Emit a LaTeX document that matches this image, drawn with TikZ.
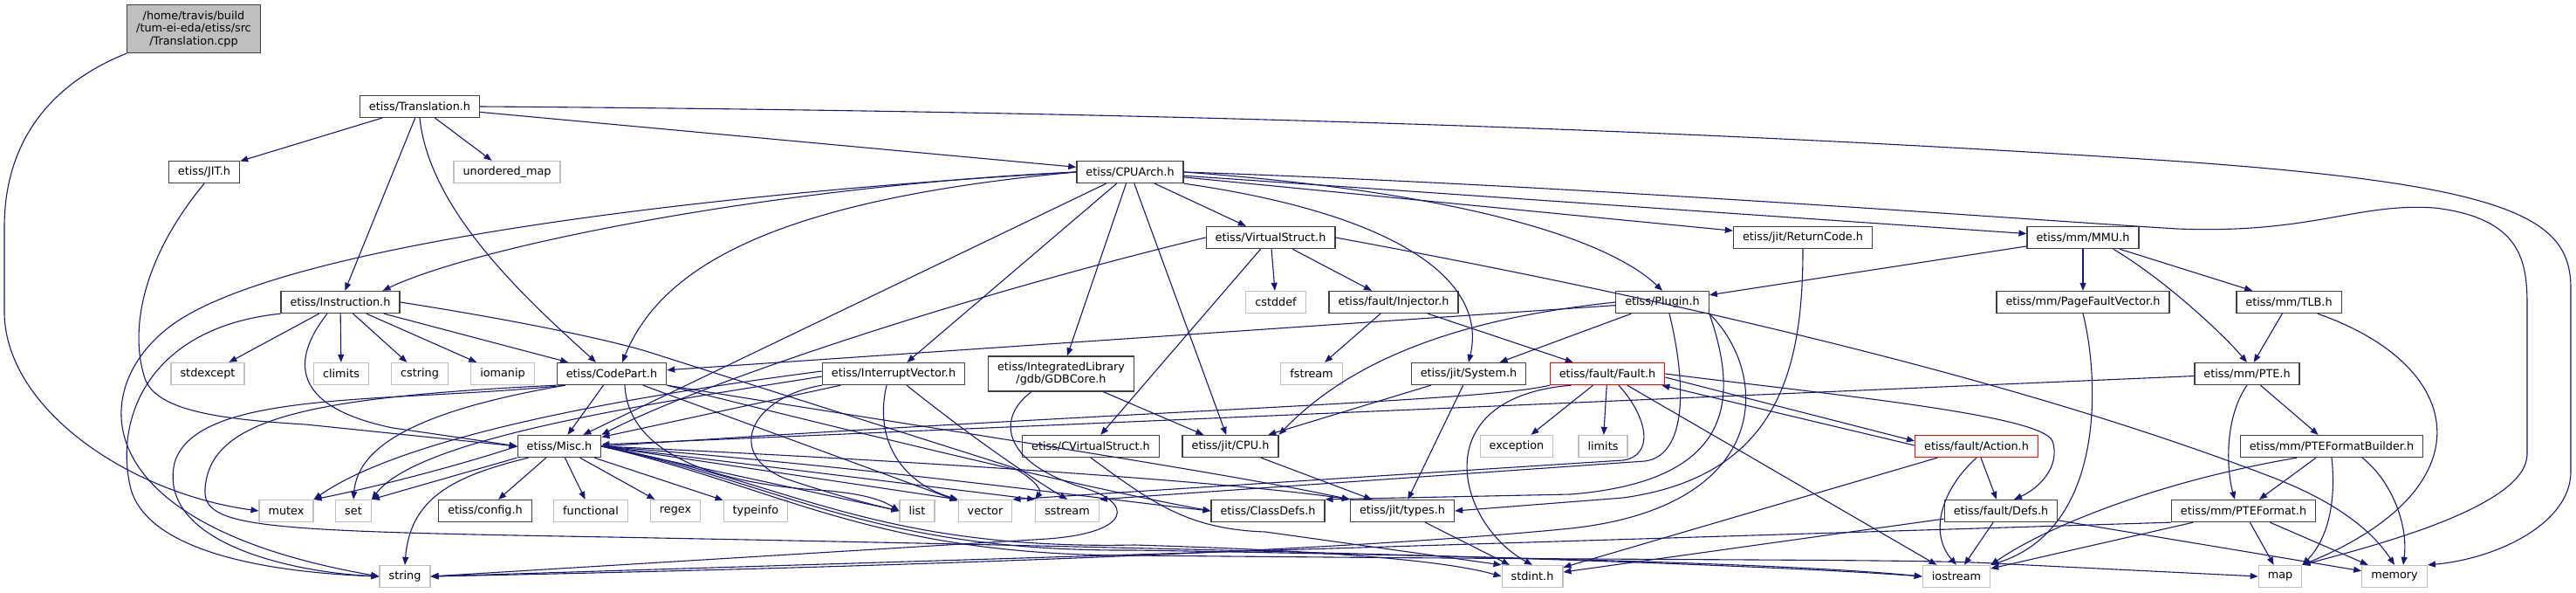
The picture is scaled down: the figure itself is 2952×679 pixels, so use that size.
\documentclass[tikz,border=0pt]{standalone}
\usepackage{fontspec}
\newfontfamily\dvfont{DejaVu Sans}
\usetikzlibrary{arrows.meta}
\definecolor{edgeblue}{HTML}{191970}
\definecolor{boxgray}{HTML}{BFBFBF}
\definecolor{boxdark}{HTML}{404040}
\tikzset{
  >={Triangle[length=9pt,width=7pt]},
  every node/.style={font=\dvfont\fontsize{12.8pt}{14.5pt}\selectfont},
  incl/.style={draw=boxdark, fill=white, text=black, line width=1.3pt,
    inner xsep=10.5pt, inner ysep=0pt, minimum height=25pt},
  sysincl/.style={incl, draw=boxgray},
  cutincl/.style={incl, draw=red},
  rootincl/.style={incl, fill=boxgray, align=center, minimum height=55pt},
  dep/.style={->, draw=edgeblue, line width=1.1pt},
}

\begin{document}
\begin{tikzpicture}[x=1pt,y=-1pt]
  \useasboundingbox (0,0) rectangle (2952,679);

  % files, rank by rank
  \node[rootincl] (cpp) at (222,33) {/home/travis/build\\/tum-ei-eda/etiss/src\\/Translation.cpp};
  \node[incl] (trans) at (481,122) {etiss/Translation.h};
  \node[incl] (jit) at (234,197) {etiss/JIT.h};
  \node[sysincl] (umap) at (581,197) {unordered\_map};
  \node[incl] (cpuarch) at (1295,197) {etiss/CPUArch.h};
  \node[incl] (vstruct) at (1456,272) {etiss/VirtualStruct.h};
  \node[incl] (retcode) at (2066,272) {etiss/jit/ReturnCode.h};
  \node[incl] (mmu) at (2387,272) {etiss/mm/MMU.h};
  \node[incl] (instr) at (390,346) {etiss/Instruction.h};
  \node[sysincl] (cstddef) at (1462,346) {cstddef};
  \node[incl] (injector) at (1597,346) {etiss/fault/Injector.h};
  \node[incl] (plugin) at (1905,346) {etiss/Plugin.h};
  \node[incl] (pfv) at (2387,346) {etiss/mm/PageFaultVector.h};
  \node[incl] (tlb) at (2623,346) {etiss/mm/TLB.h};
  \node[sysincl] (stdexcept) at (238,428) {stdexcept};
  \node[sysincl] (climits) at (391,428) {climits};
  \node[sysincl] (cstring) at (481,428) {cstring};
  \node[sysincl] (iomanip) at (576,428) {iomanip};
  \node[incl] (codepart) at (701,428) {etiss/CodePart.h};
  \node[incl] (intvec) at (1024,428) {etiss/InterruptVector.h};
  \node[incl, align=center, minimum height=40pt] (gdbcore) at (1216,428) {etiss/IntegratedLibrary\\/gdb/GDBCore.h};
  \node[sysincl] (fstream) at (1503,428) {fstream};
  \node[incl] (system) at (1683,428) {etiss/jit/System.h};
  \node[cutincl] (fault) at (1842,428) {etiss/fault/Fault.h};
  \node[incl] (pte) at (2575,428) {etiss/mm/PTE.h};
  \node[incl] (misc) at (641,511) {etiss/Misc.h};
  \node[incl] (cvstruct) at (1250,511) {etiss/CVirtualStruct.h};
  \node[incl] (cpu) at (1410,511) {etiss/jit/CPU.h};
  \node[sysincl] (exception) at (1738,511) {exception};
  \node[sysincl] (limits) at (1837,511) {limits};
  \node[cutincl] (action) at (2265,511) {etiss/fault/Action.h};
  \node[incl] (ptefb) at (2672,511) {etiss/mm/PTEFormatBuilder.h};
  \node[sysincl] (mutex) at (328,585) {mutex};
  \node[sysincl] (set) at (405,585) {set};
  \node[incl] (config) at (556,585) {etiss/config.h};
  \node[sysincl] (functional) at (677,585) {functional};
  \node[sysincl] (regex) at (774,585) {regex};
  \node[sysincl] (typeinfo) at (866,585) {typeinfo};
  \node[sysincl] (list) at (1051,585) {list};
  \node[sysincl] (vector) at (1129,585) {vector};
  \node[sysincl] (sstream) at (1223,585) {sstream};
  \node[incl] (classdefs) at (1453,585) {etiss/ClassDefs.h};
  \node[incl] (types) at (1607,585) {etiss/jit/types.h};
  \node[incl] (defs) at (2293,585) {etiss/fault/Defs.h};
  \node[incl] (ptef) at (2571,585) {etiss/mm/PTEFormat.h};
  \node[sysincl] (string) at (464,660) {string};
  \node[sysincl] (stdint) at (1756,660) {stdint.h};
  \node[sysincl] (iostream) at (2242,660) {iostream};
  \node[sysincl] (map) at (2613,660) {map};
  \node[sysincl] (memory) at (2744,660) {memory};

  % straight includes
  \foreach \a/\b in {trans/jit, trans/umap, trans/instr, trans/cpuarch,
      instr/stdexcept, instr/climits, instr/cstring, instr/iomanip, instr/codepart,
      cpuarch/misc, cpuarch/intvec, cpuarch/gdbcore, cpuarch/cpu, cpuarch/vstruct,
      cpuarch/retcode, cpuarch/mmu,
      vstruct/cvstruct, vstruct/cstddef, vstruct/injector,
      mmu/pfv, mmu/tlb, mmu/plugin, injector/fstream, injector/fault,
      plugin/codepart, plugin/system, tlb/pte,
      codepart/misc, codepart/vector, intvec/misc, gdbcore/cpu,
      system/cpu, system/types, fault/exception, fault/limits, fault/iostream,
      pte/misc, pte/ptefb, misc/config, misc/functional, misc/regex, misc/typeinfo,
      cpu/types, action/defs, action/stdint, ptefb/ptef, types/stdint,
      defs/iostream, defs/stdint, defs/memory,
      ptef/iostream, ptef/map, ptef/memory}
    \draw[dep] (\a) -- (\b);

  % root file
  \draw[dep] (cpp.south west) .. controls (60,95) and (5,160) .. (5,260) -- (5,360)
    .. controls (8,470) and (150,565) .. (mutex.west);

  % Translation.h
  \draw[dep] (trans.south) .. controls (492,240) and (600,340) .. ([xshift=-18pt]codepart.north);
  \draw[dep] (trans.east) .. controls (1400,128) and (2000,152) .. (2500,185)
    .. controls (2880,212) and (2946,250) .. (2946,330) -- (2946,540)
    .. controls (2946,600) and (2860,640) .. (memory.north east);

  % JIT.h
  \draw[dep] (jit.south) .. controls (160,300) and (150,380) .. (165,430)
    .. controls (175,470) and (250,480) .. (350,486) -- (misc.west);

  % CPUArch.h
  \draw[dep] (cpuarch.west) .. controls (900,212) and (550,280) .. ([xshift=-20pt]instr.north east);
  \draw[dep] (cpuarch.west) .. controls (800,222) and (330,280) .. (200,370)
    .. controls (100,440) and (90,600) .. (string.west);
  \draw[dep] (cpuarch.west) .. controls (900,228) and (760,300) .. ([xshift=12pt]codepart.north);
  \draw[dep] (cpuarch.south east) .. controls (1600,245) and (1705,320) .. (system.north);
  \draw[dep] (cpuarch.east) .. controls (1700,222) and (1850,280) .. (plugin.north);
  \draw[dep] (cpuarch.east) .. controls (1800,212) and (2300,250) .. (2495,262)
    .. controls (2650,268) and (2700,232) .. (2790,238)
    .. controls (2890,250) and (2896,300) .. (2896,350) -- (2896,520)
    .. controls (2896,580) and (2720,625) .. (map.north east);

  % VirtualStruct.h
  \draw[dep] (vstruct.west) .. controls (1100,340) and (800,440) .. (misc.north east);
  \draw[dep] (vstruct.east) .. controls (1900,340) and (2300,430) .. (2600,545)
    .. controls (2680,575) and (2720,610) .. (memory.north);

  % ReturnCode.h, MMU.h, TLB.h, PageFaultVector.h
  \draw[dep] (retcode.south) .. controls (2066,420) and (2040,545) .. (1860,570) -- (types.east);
  \draw[dep] ([xshift=-30pt]mmu.south east) .. controls (2480,320) and (2545,380) .. (pte.north);
  \draw[dep] ([xshift=-28pt]tlb.south east) .. controls (2830,420) and (2850,560) .. (map.north east);
  \draw[dep] (pfv.south) .. controls (2405,430) and (2415,605) .. (iostream.north east);

  % Plugin.h
  \draw[dep] (plugin.west) .. controls (1700,362) and (1560,400) .. (cpu.north east);
  \draw[dep] ([xshift=8pt]plugin.south) .. controls (1935,450) and (1930,522) .. (1885,528)
    -- (sstream.north east);
  \draw[dep] (plugin.south east) .. controls (1990,450) and (1995,550) .. (1800,566)
    -- (classdefs.north east);
  \draw[dep] (plugin.south east) .. controls (2030,430) and (2030,580) .. (1800,605)
    .. controls (1500,635) and (900,652) .. (string.east);

  % Fault.h
  \draw[dep] ([yshift=-4pt]fault.east) -- ([yshift=6pt]action.west);
  \draw[dep] ([yshift=1pt]action.west) -- ([xshift=-4pt]fault.south east);
  \draw[dep] (fault.east) .. controls (2100,452) and (2340,475) .. (2352,505)
    .. controls (2362,535) and (2335,560) .. ([xshift=15pt]defs.north);
  \draw[dep] ([xshift=25pt]fault.south west) .. controls (1630,455) and (1670,600) .. (stdint.north);
  \draw[dep] (fault.south west) .. controls (1700,460) and (1300,470) .. (misc.east);
  \draw[dep] ([xshift=13pt]fault.south) .. controls (1890,480) and (1895,522) .. (1860,527)
    -- (vector.north east);

  % Action.h, PTE.h, PTEFormatBuilder.h
  \draw[dep] (action.south) .. controls (2225,560) and (2210,610) .. (iostream.north);
  \draw[dep] (pte.south) .. controls (2548,480) and (2552,540) .. ([xshift=-10pt]ptef.north);
  \draw[dep] ([xshift=-40pt]ptefb.south) .. controls (2480,550) and (2350,600) .. (iostream.north east);
  \draw[dep] (ptefb.south) .. controls (2678,580) and (2665,620) .. (map.north east);
  \draw[dep] ([xshift=35pt]ptefb.south) .. controls (2740,550) and (2760,600) .. ([xshift=10pt]memory.north);
  \draw[dep] (ptef.south west) -- (string.east);

  % Instruction.h
  \draw[dep] ([xshift=-15pt]instr.south) .. controls (335,410) and (330,465) .. (450,490)
    .. controls (520,500) and (560,506) .. (misc.west);
  \draw[dep] (instr.south west) .. controls (170,375) and (130,480) .. (150,560)
    .. controls (170,630) and (300,655) .. (string.west);
  \draw[dep] (instr.east) .. controls (600,368) and (700,390) .. (740,402) -- (1160,535)
    .. controls (1180,545) and (1195,560) .. (sstream.north west);

  % CodePart.h
  \draw[dep] ([xshift=10pt]codepart.south west) .. controls (480,470) and (410,510) .. (set.north);
  \draw[dep] ([xshift=10pt]codepart.south west) .. controls (450,462) and (225,445) .. (200,530)
    .. controls (180,620) and (330,655) .. (string.west);
  \draw[dep] (codepart.south west) .. controls (350,455) and (240,480) .. (235,560)
    .. controls (232,605) and (300,608) .. (700,615)
    .. controls (1500,630) and (2000,645) .. (iostream.west);
  \draw[dep] ([xshift=15pt]codepart.south) .. controls (720,520) and (820,555) .. (950,562)
    .. controls (990,566) and (1010,572) .. (list.west);
  \draw[dep] (codepart.south east) .. controls (1000,500) and (1250,560) .. (classdefs.west);
  \draw[dep] (codepart.south east) .. controls (1000,480) and (1400,540) .. (types.north west);

  % InterruptVector.h
  \draw[dep] ([yshift=3pt]intvec.west) .. controls (750,450) and (470,495) .. (mutex.north east);
  \draw[dep] ([yshift=-3pt]intvec.west) .. controls (760,460) and (480,500) .. (set.north east);
  \draw[dep] (intvec.south west) .. controls (860,455) and (830,520) .. (900,548)
    .. controls (960,568) and (1000,578) .. (list.west);
  \draw[dep] ([xshift=-8pt]intvec.south) .. controls (1000,510) and (1040,555) .. (vector.north west);
  \draw[dep] ([xshift=15pt]intvec.south) .. controls (1100,490) and (1170,540) .. (sstream.north);

  % GDBCore.h, CVirtualStruct.h
  \draw[dep] ([xshift=50pt]gdbcore.south west) .. controls (1140,480) and (1150,530) .. (1240,558)
    .. controls (1300,575) and (1298,610) .. (1200,617) -- (string.east);
  \draw[dep] (cvstruct.south) .. controls (1320,575) and (1360,606) .. (1450,609) -- (stdint.north west);

  % Misc.h
  \draw[dep] (misc.west) .. controls (520,535) and (420,560) .. (mutex.north east);
  \draw[dep] (misc.south west) -- (set.north east);
  \draw[dep] ([xshift=13pt]misc.south west) .. controls (520,545) and (470,570) .. (string.north);
  \draw[dep] (misc.east) -- (list.west);
  \draw[dep] (misc.east) -- (vector.north west);
  \draw[dep] (misc.east) -- (sstream.north west);
  \draw[dep] (misc.east) .. controls (1000,535) and (1250,570) .. (classdefs.west);
  \draw[dep] (misc.east) .. controls (1000,525) and (1400,550) .. (types.north west);
  \draw[dep] (misc.east) .. controls (900,550) and (1000,630) .. (1300,624)
    .. controls (1500,630) and (1650,640) .. (stdint.west);
  \draw[dep] (misc.east) .. controls (900,555) and (1000,632) .. (1300,630)
    .. controls (1900,640) and (2100,650) .. (iostream.west);
  \draw[dep] (misc.east) .. controls (900,560) and (1000,636) .. (1300,636)
    .. controls (1900,642) and (2200,640) .. (2283,645) -- (map.west);
\end{tikzpicture}
\end{document}
